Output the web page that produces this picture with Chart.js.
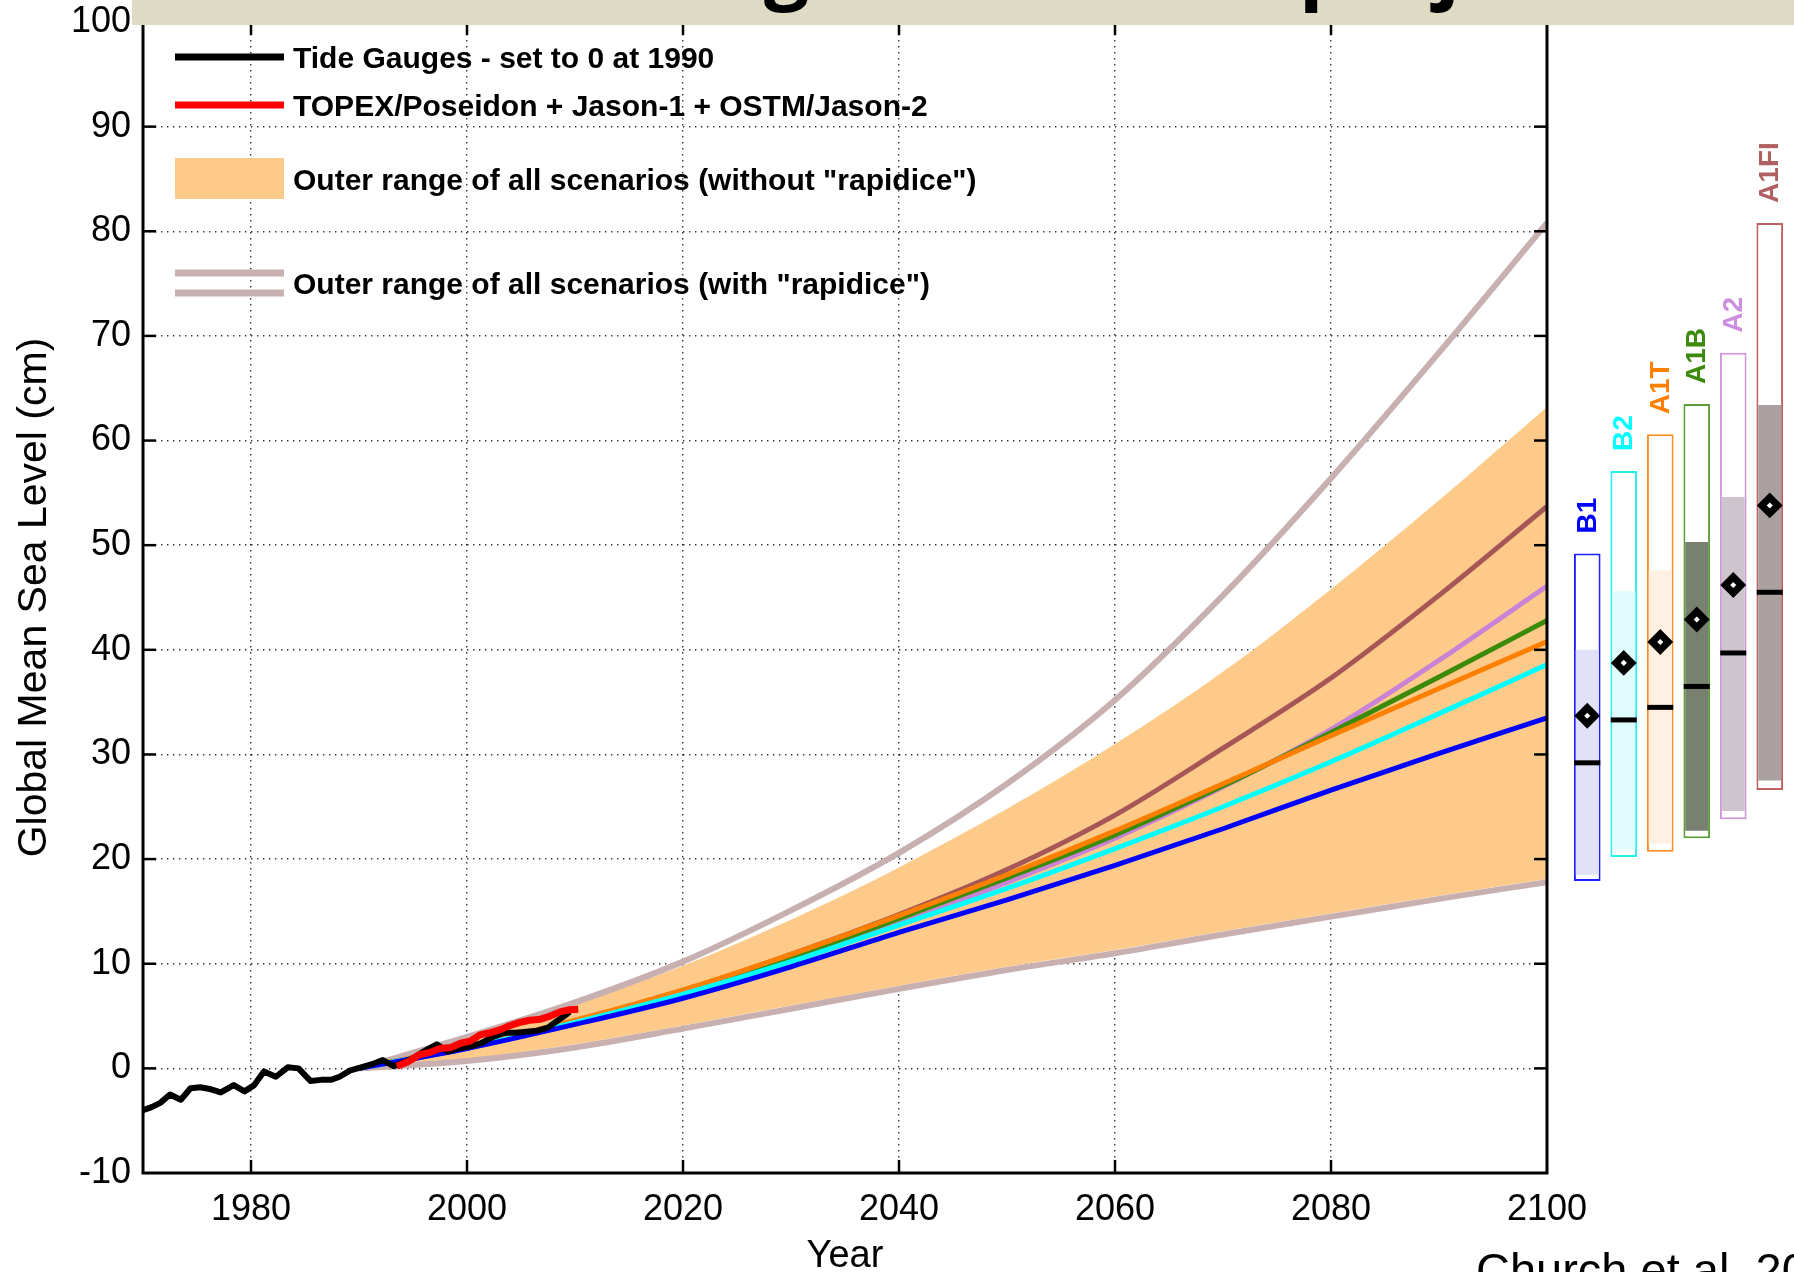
<!DOCTYPE html>
<html><head><meta charset="utf-8">
<script src="https://cdn.jsdelivr.net/npm/chart.js@4.4.1/dist/chart.umd.min.js"></script>
<style>
html,body{margin:0;padding:0;background:#fff;overflow:hidden;width:1794px;height:1272px;}
#main{position:absolute;left:0;top:0;}
#side{position:absolute;}
#banner{position:absolute;left:132px;top:0;width:1662px;height:25px;background:#dedac4;overflow:hidden;z-index:5;}
#bannerText{position:absolute;white-space:nowrap;font-family:"Open Sans";font-weight:bold;font-size:80px;color:#000;line-height:80px;}
#cite{position:absolute;left:1476px;top:1246px;font-family:"Liberation Sans",Arial,sans-serif;font-size:47px;line-height:47px;white-space:nowrap;color:#000;}
</style></head>
<body>
<canvas id="main" width="1794" height="1272"></canvas>
<canvas id="side"></canvas>
<div id="banner"><span id="bannerText"><span id="bt1">Sea level chan</span><span id="bt2">ge: IPCC AR4 </span><span id="bt3">projections</span></span></div>
<div id="cite">Church et al. 2011</div>
<script>
// ---------------- data ----------------
const xTickLabels = [1980, 2000, 2020, 2040, 2060, 2080, 2100];
const yTickLabels = [-10, 0, 10, 20, 30, 40, 50, 60, 70, 80, 90, 100];

const tideYears = [1970.0,1970.8,1971.6,1972.5,1973.5,1974.4,1975.3,1976.3,1977.2,1978.4,1979.4,1980.3,1981.2,1982.3,1983.4,1984.4,1985.5,1986.5,1987.4,1988.2,1989.2,1990.2,1991.2,1992.2,1993.2,1994.2,1995.2,1996.3,1997.2,1998.2,1999.2,2000.3,2001.3,2002.4,2003.5,2004.5,2005.5,2006.5,2007.5,2008.3,2009.0,2009.5];
const tideLevels = [-4.0,-3.7,-3.3,-2.5,-3.0,-1.9,-1.8,-2.0,-2.3,-1.6,-2.2,-1.6,-0.3,-0.8,0.1,0.0,-1.2,-1.1,-1.1,-0.8,-0.2,0.1,0.4,0.8,0.2,0.6,1.1,1.8,2.3,1.6,1.9,2.1,2.4,3.0,3.4,3.4,3.5,3.6,3.9,4.5,5.0,5.4];

const altYears = [1993.5,1994.5,1995.6,1996.5,1997.5,1998.5,1999.4,2000.3,2001.2,2002.1,2003.1,2004.0,2004.9,2005.8,2006.8,2007.7,2008.6,2009.5,2010.3];
const altLevels = [0.2,0.6,1.3,1.5,1.9,2.0,2.4,2.6,3.2,3.4,3.7,4.1,4.4,4.6,4.7,5.0,5.4,5.6,5.65];

const projYears = [1990,2000,2010,2020,2030,2040,2050,2060,2070,2080,2090,2100];
const rangeLowNoIce  = [0,0.9,2.3,4.1,6.0,7.9,9.7,11.3,13.1,14.8,16.5,18.1];
const rangeHighNoIce = [0,2.8,6.1,9.8,14.2,19.2,24.8,31.0,37.9,45.8,54.3,63.2];
const rangeLowIce    = [0,0.7,2.0,3.8,5.7,7.6,9.4,11.0,12.8,14.5,16.2,17.8];
const rangeHighIce   = [0,3.0,6.3,10.2,15.1,20.6,27.2,35.2,45.2,56.4,68.4,80.8];

const projB1   = [0,1.9,4.2,6.7,9.7,13.0,16.1,19.4,22.9,26.6,30.1,33.5];
const projB2   = [0,2.0,4.4,7.1,10.2,13.7,17.2,21.0,25.0,29.3,33.9,38.6];
const projA1T  = [0,2.1,4.6,7.5,10.9,14.6,18.5,22.7,27.2,31.8,36.3,40.8];
const projA1B  = [0,2.0,4.5,7.3,10.6,14.3,18.2,22.3,27.0,32.1,37.4,42.8];
const projA2   = [0,1.9,4.3,7.0,10.2,13.8,17.8,22.0,26.9,32.4,39.0,46.1];
const projA1FI = [0,2.0,4.5,7.4,10.9,14.7,19.0,24.2,30.6,37.3,45.2,53.7];

const scenarios = ['B1','B2','A1T','A1B','A2','A1FI'];
const box2100Low    = [17.9,20.2,20.7,22.0,23.8,26.6];
const box2100High   = [49.2,57.1,60.6,63.5,68.4,80.8];
const shade2100Low  = [18.5,20.9,21.5,22.7,24.6,27.5];
const shade2100High = [40.0,45.6,47.6,50.3,54.6,63.4];
const median2100    = [29.2,33.3,34.5,36.5,39.7,45.5];
const central2100   = [33.7,38.75,40.75,42.9,46.2,53.8];

const legendTexts = ['Tide Gauges - set to 0 at 1990','TOPEX/Poseidon + Jason-1 + OSTM/Jason-2','Outer range of all scenarios (without "rapidice")','Outer range of all scenarios (with "rapidice")'];

// ---------------- styles ----------------
const FONT = '"Liberation Sans", Arial, sans-serif';
const lineColors  = ['#0000ff','#00ffff','#ff8000','#3c8a0a','#c882d6','#a65656'];
const labelColors = ['#0000ff','#00ffff','#ff8000','#3c8a0a','#cc8ee0','#b06060'];
const boxColors   = ['#2020ff','#20f0f0','#ff8c20','#5a9e35','#d296dc','#c06060'];
const shadeColors = ['rgb(225,225,250)','rgb(225,252,252)','rgb(255,240,226)','rgb(120,128,112)','rgb(205,196,205)','rgb(170,160,160)'];
const ICE = 'rgb(201,176,176)';
const FILL = 'rgb(253,202,138)';

Chart.defaults.font.family = FONT;
Chart.defaults.color = '#000';

const pts = (xs, ys) => xs.map((x, i) => ({x: x, y: ys[i]}));
const projSeries = [projB1, projB2, projA1T, projA1B, projA2, projA1FI];

const datasets = [
  {label:'noIceLow', data: pts(projYears, rangeLowNoIce), borderWidth:0, pointRadius:0, fill:false, cubicInterpolationMode:'monotone', order:100},
  {label:'noIceHigh', data: pts(projYears, rangeHighNoIce), borderWidth:0, pointRadius:0, fill:'-1', backgroundColor:FILL, cubicInterpolationMode:'monotone', order:99},
  {label:'iceLow', data: pts(projYears, rangeLowIce), borderColor:ICE, borderWidth:6, pointRadius:0, fill:false, cubicInterpolationMode:'monotone', order:90},
  {label:'iceHigh', data: pts(projYears, rangeHighIce), borderColor:ICE, borderWidth:6, pointRadius:0, fill:false, cubicInterpolationMode:'monotone', order:90},
];
scenarios.forEach((s, i) => {
  datasets.push({label:s, data: pts(projYears, projSeries[i]), borderColor: lineColors[i], borderWidth:5, pointRadius:0, fill:false, cubicInterpolationMode:'monotone', order: 75 + i});
});
datasets.push({label:'tide', data: pts(tideYears, tideLevels), borderColor:'#000', borderWidth:6, pointRadius:0, fill:false, borderJoinStyle:'round', order:2});
datasets.push({label:'alt', data: pts(altYears, altLevels), borderColor:'#ff0000', borderWidth:7, pointRadius:0, fill:false, borderJoinStyle:'round', order:1});

function seg(ctx, x1, y1, x2, y2){ ctx.beginPath(); ctx.moveTo(x1,y1); ctx.lineTo(x2,y2); ctx.stroke(); }

const framePlugin = {
  id:'frame',
  afterDatasetsDraw(chart){
    const {ctx, chartArea:a, scales:{x, y}} = chart;
    ctx.save();
    ctx.strokeStyle = '#000';
    ctx.lineWidth = 3;
    ctx.strokeRect(a.left, a.top, a.right - a.left, a.bottom - a.top);
    ctx.lineWidth = 2.5;
    const L = 13;
    yTickLabels.forEach(v => {
      if (v <= -10 || v >= 100) return;
      const py = y.getPixelForValue(v);
      seg(ctx, a.left, py, a.left + L, py);
      seg(ctx, a.right - L, py, a.right, py);
    });
    xTickLabels.forEach(v => {
      if (v >= 2100) return;
      const px = x.getPixelForValue(v);
      seg(ctx, px, a.bottom, px, a.bottom - L);
      seg(ctx, px, a.top, px, a.top + L);
    });
    // legend
    ctx.font = 'bold 30px ' + FONT;
    ctx.fillStyle = '#000';
    ctx.textBaseline = 'alphabetic';
    ctx.textAlign = 'left';
    ctx.lineCap = 'butt';
    ctx.lineWidth = 7;
    ctx.strokeStyle = '#000'; seg(ctx, 175, 57, 284, 57);
    ctx.fillText(legendTexts[0], 293, 68);
    ctx.strokeStyle = '#ff0000'; seg(ctx, 175, 105, 284, 105);
    ctx.fillText(legendTexts[1], 293, 116);
    ctx.fillStyle = FILL; ctx.fillRect(175, 158, 109, 41);
    ctx.fillStyle = '#000';
    ctx.fillText(legendTexts[2], 293, 190);
    ctx.strokeStyle = ICE; seg(ctx, 175, 273, 284, 273); seg(ctx, 175, 293, 284, 293);
    ctx.fillText(legendTexts[3], 293, 294);
    ctx.restore();
  }
};

const borderOpts = {display:false, dash:[1.4, 4.6]};

const main = new Chart(document.getElementById('main'), {
  type:'line',
  data:{datasets},
  options:{
    responsive:false, animation:false, devicePixelRatio:1, events:[],
    layout:{padding:{left:0, top:22, right:247, bottom:0}, autoPadding:false},
    plugins:{legend:{display:false}, tooltip:{enabled:false}},
    scales:{
      x:{type:'linear', min:1970, max:2100,
        afterBuildTicks: s => { s.ticks = xTickLabels.map(v => ({value:v})); },
        afterFit: s => { s.height = 99; },
        grid:{color:'rgba(0,0,0,0.8)', lineWidth:1.4, drawTicks:false},
        border: borderOpts,
        ticks:{color:'#000', font:{size:36}, padding:15, maxRotation:0, autoSkip:false, callback: v => String(v)},
        title:{display:true, text:'Year', color:'#000', font:{size:38, lineHeight:0.8}, padding:{top:0, bottom:0}}
      },
      y:{type:'linear', min:-10, max:100,
        afterBuildTicks: s => { s.ticks = yTickLabels.map(v => ({value:v})); },
        afterFit: s => { s.width = 143; },
        grid:{color:'rgba(0,0,0,0.8)', lineWidth:1.4, drawTicks:true, tickLength:12, tickColor:'rgba(0,0,0,0)'},
        border: borderOpts,
        ticks:{color:'#000', font:{size:36}, padding:0, autoSkip:false, callback: v => String(v)},
        title:{display:true, text:'Global Mean Sea Level (cm)', color:'#000', font:{size:41}, padding:{top:10, bottom:0}}
      }
    }
  },
  plugins:[framePlugin]
});

// ---------------- side chart: ranges at 2100 ----------------
const ca = main.chartArea;
const sideCanvas = document.getElementById('side');
sideCanvas.width = 219;
sideCanvas.height = Math.round(ca.bottom - ca.top);
sideCanvas.style.left = '1569px';
sideCanvas.style.top = ca.top + 'px';

const sideLabels = {
  id:'sideLabels',
  afterDraw(chart){
    const {ctx, scales:{y}} = chart;
    const meta = chart.getDatasetMeta(3);
    ctx.save();
    ctx.font = 'bold 28px ' + FONT;
    ctx.textAlign = 'left';
    ctx.textBaseline = 'middle';
    scenarios.forEach((s, i) => {
      const px = meta.data[i].x;
      const py = y.getPixelForValue(box2100High[i]) - 20;
      ctx.save();
      ctx.translate(px, py);
      ctx.rotate(-Math.PI / 2);
      ctx.fillStyle = labelColors[i];
      ctx.fillText(s, 0, 1);
      ctx.restore();
    });
    ctx.restore();
  }
};

new Chart(sideCanvas, {
  type:'bar',
  data:{
    labels: scenarios,
    datasets:[
      {type:'line', data: central2100, showLine:false, pointStyle:'rectRot', pointRadius:8, pointBorderWidth:7, pointBackgroundColor:'#fff', pointBorderColor:'#000', order:0},
      {type:'line', data: median2100, showLine:false, pointStyle:'line', pointRadius:13, pointBorderWidth:5, pointBorderColor:'#000', order:1},
      {type:'bar', data: shade2100Low.map((v, i) => [v, shade2100High[i]]), backgroundColor: shadeColors, borderWidth:0, barPercentage:0.63, categoryPercentage:1, grouped:false, order:2},
      {type:'bar', data: box2100Low.map((v, i) => [v, box2100High[i]]), backgroundColor:'#fff', borderColor: boxColors, borderWidth:2, borderSkipped:false, barPercentage:0.73, categoryPercentage:1, grouped:false, order:3}
    ]
  },
  options:{
    responsive:false, animation:false, devicePixelRatio:1, events:[],
    layout:{padding:0, autoPadding:false},
    plugins:{legend:{display:false}, tooltip:{enabled:false}},
    scales:{
      x:{display:false, offset:true},
      y:{display:false, min:-10, max:100}
    }
  },
  plugins:[sideLabels]
});

// ---------------- banner title placement ----------------
function placeBanner(){
  const bt = document.getElementById('bannerText');
  const s2 = document.getElementById('bt2'), s3 = document.getElementById('bt3');
  bt.style.wordSpacing = '0px';
  bt.style.left = '0px';
  const base = bt.getBoundingClientRect().left;
  const g0 = s2.getBoundingClientRect().left - base;
  const p0 = s3.getBoundingClientRect().left - base;
  const gTarget = 767 - 132 - 3, pTarget = 1303 - 132 - 4;
  const spBetween = 3;
  const ws = ((pTarget - gTarget) - (p0 - g0)) / spBetween;
  bt.style.wordSpacing = ws + 'px';
  const g1 = s2.getBoundingClientRect().left - bt.getBoundingClientRect().left;
  bt.style.left = (gTarget - g1) + 'px';
  const c = document.createElement('canvas').getContext('2d');
  c.font = 'bold 80px "Open Sans"';
  const m = c.measureText('g');
  const asc = m.fontBoundingBoxAscent, desc = m.fontBoundingBoxDescent;
  const bl = (80 - (asc + desc)) / 2 + asc;
  bt.style.top = (13 - m.actualBoundingBoxDescent - bl) + 'px';
}
placeBanner();
if (document.fonts && document.fonts.ready) document.fonts.ready.then(placeBanner);
</script>
</body></html>
